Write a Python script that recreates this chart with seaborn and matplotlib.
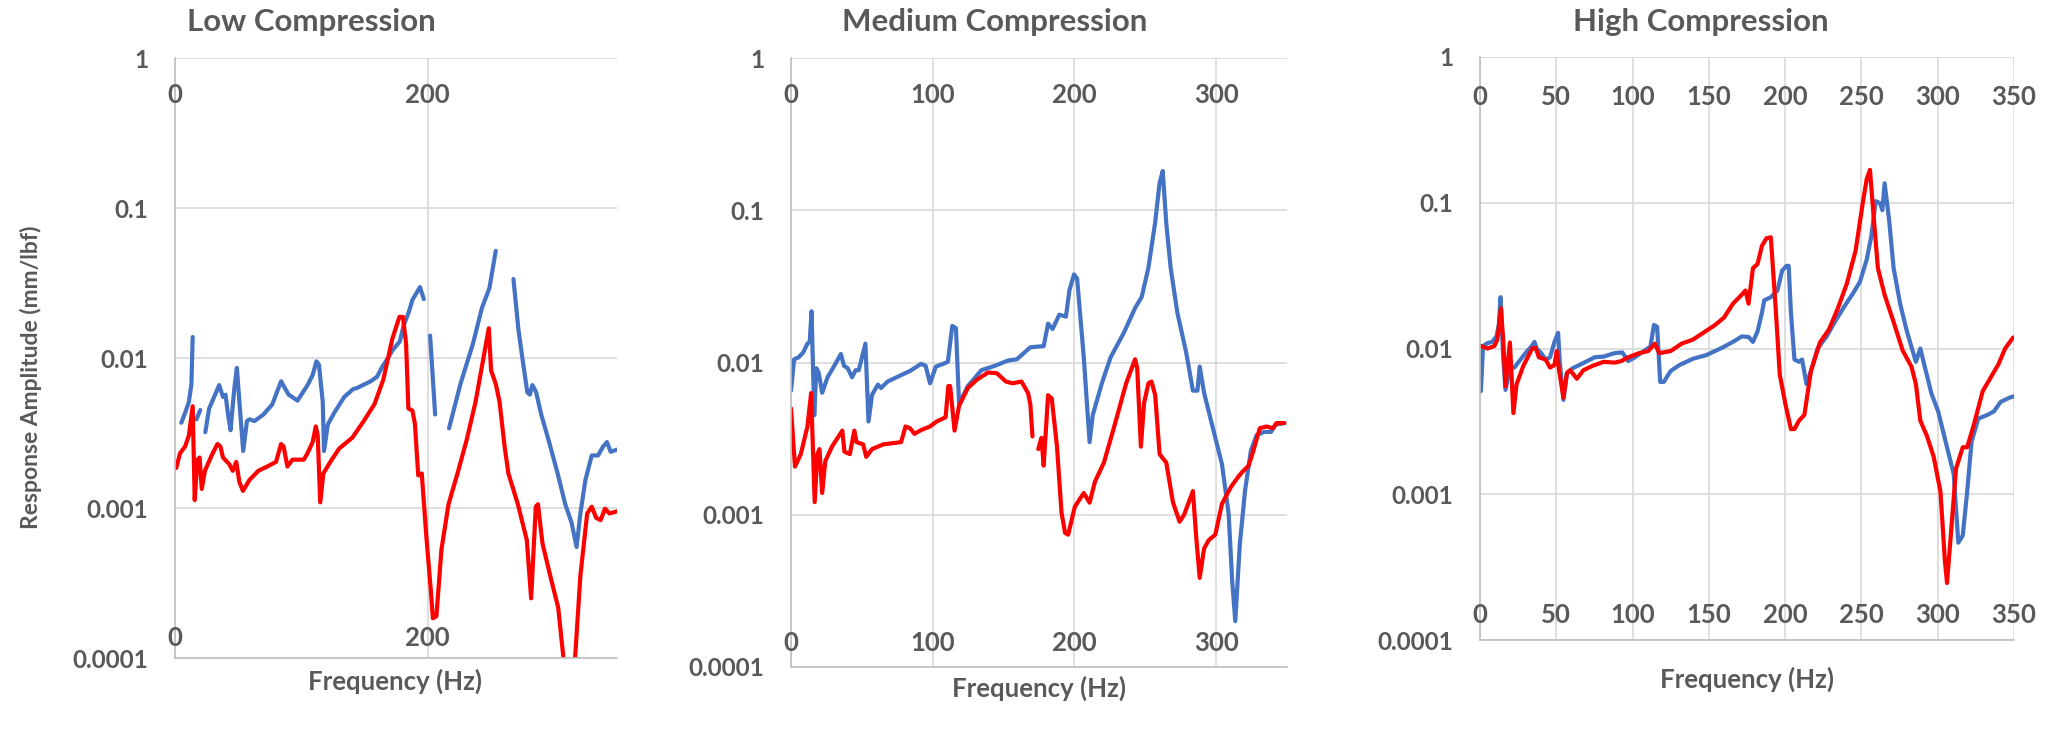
import numpy as np
import pandas as pd
import seaborn as sns
import matplotlib.pyplot as plt
from matplotlib.ticker import NullLocator

nan = np.nan

# ---- Low compression (nan = gap in the measured curve)
low_blue_hz = [5, 8, 11, 13, 14, nan, 17, 20, nan,
               24, 27, 31, 35, 38, 40, 42, 44, 47, 49, 51, 54, 57, 59, 63, 70, 77, 84, 87, 90,
               97, 105, 109, 112, 114, 117, 118, 121, 126, 134, 141, 144, 155, 160, 164, 169, 172,
               178, 181, 185, 188, 194, 197, nan, 202, 206, nan,
               217, 226, 236, 243, 249, 254, nan,
               268, 272, 275, 279, 281, 283, 286, 290, 296, 303, 309, 314, 318, 321, 325, 330,
               335, 339, 342, 345, 350]
low_blue_amp = [0.0037, 0.0043, 0.0051, 0.0067, 0.0138, nan, 0.0039, 0.0045, nan,
                0.0032, 0.0046, 0.0055, 0.0066, 0.0055, 0.0057, 0.0042, 0.0033, 0.0063, 0.0086,
                0.0051, 0.0024, 0.0038, 0.0039, 0.0038, 0.0042, 0.0049, 0.0070, 0.0063, 0.0057,
                0.0052, 0.0066, 0.0077, 0.0095, 0.0090, 0.0051, 0.0024, 0.0036, 0.0043, 0.0055,
                0.0062, 0.0063, 0.0070, 0.0075, 0.0087, 0.0101, 0.0112, 0.0129, 0.0164, 0.0201,
                0.0244, 0.0297, 0.0247, nan, 0.0141, 0.0042, nan,
                0.0034, 0.0067, 0.0125, 0.0215, 0.0293, 0.0518, nan,
                0.0336, 0.0153, 0.0101, 0.0059, 0.0057, 0.0066, 0.0059, 0.0042, 0.0028, 0.0017,
                0.00106, 0.0008, 0.00055, 0.00092, 0.00154, 0.00224, 0.00224, 0.00257, 0.00275,
                0.00237, 0.00245]
low_red_hz = [1, 4, 8, 11, 14, 15.6, 17.7, 19.5, 21.2, 23.7, 29, 33.6, 36, 38, 43, 45.7, 48.5,
              51, 53.8, 59, 66, 73, 80, 84, 86, 89, 93, 102, 105, 109, 111.5, 113, 115, 117.5,
              123, 130, 140.5, 149, 158, 165, 172, 177.7, 180.5, 183, 184.8, 188, 190, 192.6,
              195.4, 199, 202.5, 204.2, 207, 211, 216.6, 223.7, 231, 238, 245, 248.5, 250.3,
              254, 257, 261, 264, 271.5, 278.6, 282, 285.7, 287.4, 291, 298, 303.4, 307.6, 311,
              316.8, 321, 326.4, 330, 333.5, 337, 340.5, 344, 350]
low_red_amp = [0.00185, 0.00232, 0.00257, 0.00305, 0.00477, 0.00113, 0.0021, 0.00217, 0.00134,
               0.00177, 0.00224, 0.00267, 0.00257, 0.00217, 0.00196, 0.00177, 0.00203, 0.00149,
               0.0013, 0.00154, 0.00177, 0.00189, 0.00203, 0.00267, 0.00257, 0.00189, 0.0021,
               0.0021, 0.00232, 0.00275, 0.0035, 0.00305, 0.00109, 0.0017, 0.00203, 0.00249,
               0.00295, 0.00375, 0.00493, 0.0072, 0.01334, 0.0188, 0.0188, 0.01245, 0.00461,
               0.00446, 0.00363, 0.00165, 0.0017, 0.00065, 0.000287, 0.000184, 0.00019, 0.00053,
               0.00106, 0.0017, 0.00285, 0.0051, 0.01086, 0.0158, 0.00826, 0.00672, 0.0051,
               0.00257, 0.0017, 0.00106, 0.00061, 0.00025, 0.00102, 0.00106, 0.00058, 0.00033,
               0.000218, 0.0001, 0.00006, 0.0001, 0.000353, 0.00092, 0.00102, 0.00086, 0.00083,
               0.00099, 0.00092, 0.00095]

# ---- Medium compression
med_blue_hz = [0, 2.2, 5.3, 8.5, 11.6, 13.2, 14.5, 16.4, 17.9, 19.5, 22, 25.8, 30.5, 35.2, 37.4,
               39.9, 43.1, 45.6, 47.8, 52.5, 54.7, 57.2, 61.3, 63.5, 68.2, 74.5, 84, 91.8, 95,
               98.1, 102.2, 107.5, 110.7, 113.8, 116.4, 118.6, 124.8, 134.3, 143.7, 153.1, 159.4,
               168.9, 178.3, 181.4, 184.6, 189.3, 194, 196.5, 199.7, 201.9, 206.6, 210.7, 212.9,
               219.2, 225.5, 234.9, 242.8, 247.5, 252.2, 256.9, 260.1, 262.3, 264.8, 267.9,
               272.6, 278.9, 283.6, 286.8, 288.4, 291.5, 297.8, 304.1, 308.8, 311.3, 313.5,
               316.7, 320.4, 324.5, 328.6, 334, 338.7, 341.8, 348.1]
med_blue_amp = [0.00653, 0.0105, 0.0108, 0.0116, 0.0133, 0.0137, 0.0217, 0.0045, 0.00917, 0.0086,
                0.00632, 0.008, 0.0095, 0.01137, 0.0095, 0.0092, 0.008, 0.0089, 0.0089, 0.0133,
                0.0041, 0.00614, 0.00716, 0.0068, 0.0075, 0.008, 0.0088, 0.0098, 0.0095, 0.0073,
                0.0094, 0.0098, 0.0101, 0.0174, 0.0168, 0.00534, 0.007, 0.0089, 0.0095, 0.0103,
                0.0105, 0.0126, 0.0128, 0.018, 0.0166, 0.0206, 0.02, 0.0299, 0.0379, 0.0355,
                0.0108, 0.003, 0.0045, 0.00723, 0.0108, 0.0157, 0.0228, 0.027, 0.0419, 0.0822,
                0.151, 0.181, 0.0822, 0.0419, 0.0213, 0.0116, 0.00653, 0.00653, 0.0094, 0.00632,
                0.00368, 0.00215, 0.00102, 0.00037, 0.0002, 0.00064, 0.00144, 0.00263, 0.00334,
                0.0035, 0.0035, 0.0039, 0.004]
med_red_hz = [0, 2.8, 6.9, 11.6, 14.2, 16.7, 18.6, 20.1, 22, 24.2, 28.9, 36.2, 37.7, 41.5, 44.7,
              46.2, 50.9, 53.1, 57.2, 65.1, 77.7, 80.8, 84, 87.1, 91.8, 98.1, 102.8, 109.1, 111,
              112.3, 115.4, 118.6, 124.8, 131.1, 139, 145.3, 151.6, 156.3, 162.6, 167.3, 168.9,
              170.4, nan, 174.5, 176.7, 178.3, 181.4, 184, 187.7, 190.9, 193.4, 195.6, 200.3,
              206.6, 210.7, 214.5, 220.8, 228.6, 236.5, 242.8, 244.3, 246.9, 249.1, 252.2, 254.4,
              257, 260.1, 264.8, 269.5, 274.2, 277.4, 283.6, 285.8, 288.4, 291.5, 294.7, 299.4,
              304.1, 310.4, 315.1, 318.2, 322.9, 326.1, 330.8, 335.5, 340.2, 342.5, 348.1]
med_red_amp = [0.005, 0.00207, 0.0025, 0.0038, 0.0063, 0.00121, 0.0025, 0.0027, 0.00139, 0.00225,
               0.0028, 0.00357, 0.0026, 0.0025, 0.00357, 0.003, 0.0029, 0.0024, 0.0027, 0.0029,
               0.003, 0.0038, 0.0037, 0.0034, 0.0036, 0.0038, 0.0041, 0.00437, 0.007, 0.007,
               0.00357, 0.0052, 0.0068, 0.0077, 0.0086, 0.0085, 0.0075, 0.0073, 0.0075, 0.0063,
               0.0053, 0.00327, nan, 0.0027, 0.0032, 0.0021, 0.0061, 0.0058, 0.0028, 0.00103,
               0.00076, 0.00074, 0.00113, 0.00139, 0.0012, 0.00165, 0.0022, 0.00395, 0.0073,
               0.0105, 0.0092, 0.0028, 0.0054, 0.0073, 0.0075, 0.0061, 0.0025, 0.0022, 0.00121,
               0.0009, 0.001, 0.00143, 0.00074, 0.000385, 0.0006, 0.00068, 0.00074, 0.00118,
               0.00152, 0.00175, 0.0019, 0.0021, 0.0026, 0.0037, 0.0038, 0.0037, 0.004, 0.004]

# ---- High compression
high_blue_hz = [0.6, 2, 5, 7.9, 10.8, 12.3, 13.5, 15.2, 16.7, 19, 20.2, 22.5, 25.4, 29.8, 33.6,
                35.7, 37.1, 40.1, 43, 45.9, 48.8, 51.2, 52.3, 54.7, 57, 60.5, 69.3, 75.1, 81,
                88.3, 93.3, 97.1, 101.5, 107.3, 111.7, 114, 116.1, 118.1, 120.5, 124.9, 130.7,
                139.5, 148.2, 158.5, 165.8, 171.6, 176, 178.9, 181.9, 184.8, 186.3, 190.6, 195,
                198, 200.9, 202.3, 203.8, 206.1, 209.1, 211.1, 214, 216.9, 221.3, 227.2, 233,
                238.9, 244.7, 249.1, 253.5, 256.4, 259.4, 262.3, 263.7, 265.2, 268.1, 271.1,
                275.4, 279.8, 285.7, 288.6, 291.5, 295.9, 300.3, 306.1, 310.5, 313.5, 316.4,
                319.3, 322.2, 326.6, 332.5, 336.8, 341.2, 347.1, 350]
high_blue_amp = [0.0051, 0.0104, 0.0109, 0.0111, 0.0121, 0.0145, 0.0225, 0.0087, 0.0052, 0.0068,
                 0.0074, 0.0074, 0.0081, 0.0093, 0.0103, 0.0111, 0.01, 0.0093, 0.0084, 0.0087,
                 0.0111, 0.0128, 0.0081, 0.00444, 0.0068, 0.0073, 0.0081, 0.0087, 0.0088, 0.0093,
                 0.0094, 0.0082, 0.0087, 0.0096, 0.0103, 0.0145, 0.0141, 0.0059, 0.0059, 0.007,
                 0.0077, 0.0085, 0.009, 0.0101, 0.0111, 0.0121, 0.012, 0.0111, 0.0131, 0.0176,
                 0.0214, 0.0225, 0.025, 0.0342, 0.0369, 0.0369, 0.0176, 0.0084, 0.0081, 0.0084,
                 0.0057, 0.007, 0.01, 0.0121, 0.0155, 0.0195, 0.0241, 0.0288, 0.0409, 0.0583,
                 0.1025, 0.099, 0.089, 0.136, 0.077, 0.0356, 0.0202, 0.0131, 0.0081, 0.01,
                 0.0075, 0.0049, 0.0037, 0.0021, 0.00137, 0.000465, 0.00052, 0.00104, 0.0023,
                 0.0033, 0.0035, 0.0037, 0.0043, 0.0046, 0.0047]
high_red_hz = [0.6, 5, 9.4, 11.4, 13.7, 15.2, 16.7, 19.6, 21.9, 24, 28.4, 34.2, 36.5, 38.6, 43,
               45.9, 48.8, 50.3, 51.8, 54.7, 57, 59.1, 63.5, 67.8, 73.7, 81, 88.3, 92.7, 97.1,
               104.4, 110.2, 114.6, 117.5, 124.9, 132.2, 139.5, 148.2, 154.1, 159.9, 165.8,
               171.6, 174, 176, 178.9, 181.9, 184.8, 187.7, 190.6, 193.6, 196.5, 200.3, 203.8,
               206.1, 209.1, 212.6, 216.9, 222.8, 228.7, 234.5, 240.4, 246.2, 250.6, 253.5,
               255.6, 257.9, 260.8, 265.2, 271.1, 277, 282.8, 285.7, 288.6, 293, 297.4, 301.8,
               304.7, 306.1, 308.5, 312, 316.4, 319.3, 323.7, 329.5, 335.4, 339.8, 344.2, 349.4]
high_red_amp = [0.0104, 0.01, 0.0104, 0.0115, 0.0189, 0.0115, 0.0055, 0.011, 0.0036, 0.0057,
                0.0076, 0.01, 0.0101, 0.0087, 0.0084, 0.0074, 0.0077, 0.0096, 0.0071, 0.0046,
                0.0068, 0.0071, 0.0062, 0.0071, 0.0076, 0.0081, 0.008, 0.0082, 0.0087, 0.0093,
                0.0096, 0.0108, 0.0093, 0.0096, 0.0108, 0.0115, 0.0132, 0.0145, 0.0163, 0.0203,
                0.0234, 0.025, 0.0203, 0.0355, 0.038, 0.0506, 0.057, 0.058, 0.0203, 0.0066,
                0.0041, 0.0028, 0.0028, 0.0032, 0.0035, 0.007, 0.011, 0.0135, 0.0188, 0.0278,
                0.047, 0.0955, 0.146, 0.168, 0.0828, 0.0356, 0.0233, 0.0152, 0.0097, 0.0075,
                0.0057, 0.0032, 0.0025, 0.0018, 0.00104, 0.00035, 0.000246, 0.00051, 0.0015,
                0.0021, 0.0021, 0.003, 0.0051, 0.0065, 0.0078, 0.01, 0.0119]

y_ticks = [0.0001, 0.001, 0.01, 0.1, 1]
y_labels = ["0.0001", "0.001", "0.01", "0.1", "1"]
low_xticks = [0, 200]
med_xticks = [0, 100, 200, 300]
high_xticks = [0, 50, 100, 150, 200, 250, 300, 350]

sns.set_style("white")
plt.rcParams['font.family'] = ['Lato', 'DejaVu Sans']
plt.rcParams['font.weight'] = 'bold'
gray = '#595959'
palette = {'blue': '#4472C4', 'red': '#FF0000'}


def frame(hz, amp, name):
    df = pd.DataFrame({'hz': hz, 'amp': amp})
    df['seg'] = name + df['amp'].isna().cumsum().astype(str)
    df['series'] = name
    return df.dropna()


W, H = 2049, 734
fig = plt.figure(figsize=(W / 100, H / 100), dpi=100)

# title, axes box in px (left, top, right, bottom), xticks, data,
# bottom / top tick label offsets (px), title x, xlabel pos
panels = [
    ("Low Compression", (175, 58, 617, 658), low_xticks,
     (low_blue_hz, low_blue_amp), (low_red_hz, low_red_amp), (20, 37), 311, (395, 681)),
    ("Medium Compression", (791, 58, 1287, 667), med_xticks,
     (med_blue_hz, med_blue_amp), (med_red_hz, med_red_amp), (24, 37), 995, (1039, 688)),
    ("High Compression", (1480, 57, 2014, 640), high_xticks,
     (high_blue_hz, high_blue_amp), (high_red_hz, high_red_amp), (25, 40), 1701, (1747, 679)),
]

for title, box, xticks, blue, red, offs, title_x, xlab in panels:
    l, t, r, b = box
    ax = fig.add_axes([l / W, 1 - b / H, (r - l) / W, (b - t) / H])
    df = pd.concat([frame(*blue, 'blue'), frame(*red, 'red')], ignore_index=True)
    sns.lineplot(data=df, x='hz', y='amp', hue='series', units='seg', estimator=None,
                 sort=False, palette=palette, linewidth=3.0, legend=False, ax=ax)
    ax.set_yscale('log')
    ax.set_ylim(1e-4, 1)
    ax.set_xlim(0, 350)
    ax.set_yticks(y_ticks)
    ax.set_yticklabels(y_labels)
    ax.yaxis.set_minor_locator(NullLocator())
    ax.set_xticks(xticks)
    ax.tick_params(axis='y', length=0, pad=19, labelsize=17.5, labelcolor=gray)
    ax.tick_params(axis='x', length=0, labelbottom=False)
    ax.set_xlabel("")
    ax.set_ylabel("")
    ax.grid(True, color='#d9d9d9', linewidth=1.2)
    for side in ['top', 'right']:
        ax.spines[side].set_visible(False)
    for side in ['left', 'bottom']:
        ax.spines[side].set_color('#bfbfbf')
        ax.spines[side].set_linewidth(1.2)
    h = b - t
    for xt in xticks:
        ax.text(xt, offs[0] / h, str(xt), transform=ax.get_xaxis_transform(),
                ha='center', va='center', fontsize=18.5, color=gray)
        ax.text(xt, 1 - offs[1] / h, str(xt), transform=ax.get_xaxis_transform(),
                ha='center', va='center', fontsize=18.5, color=gray)
    fig.text(title_x / W, 1 - 22 / H, title, ha='center', va='center', fontsize=22.5, color=gray)
    fig.text(xlab[0] / W, 1 - xlab[1] / H, "Frequency (Hz)", ha='center', va='center',
             fontsize=18.5, color=gray)

fig.text(31 / W, 1 - 377 / H, "Response Amplitude (mm/lbf)", rotation=90, ha='center',
         va='center', fontsize=16.5, color=gray)

fig.savefig("out.png", dpi=100, facecolor='white')
